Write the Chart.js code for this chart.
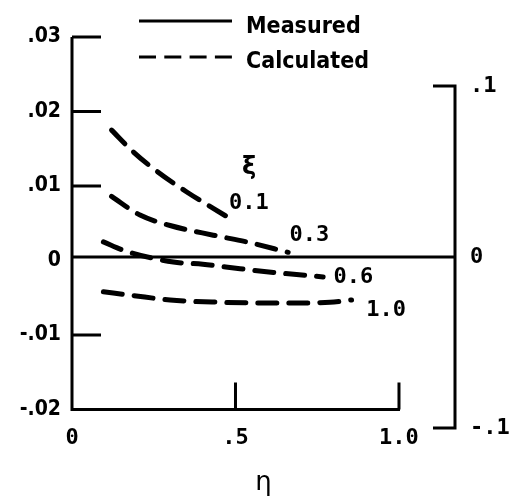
<!DOCTYPE html>
<html>
<head>
<meta charset="utf-8">
<script src="https://cdn.jsdelivr.net/npm/chart.js@4.4.0/dist/chart.umd.min.js"></script>
<style>
  body { margin: 0; background: #fff; }
  canvas { display: block; }
</style>
</head>
<body>
<canvas id="mycanvas" width="512" height="499"></canvas>
<script>
// curve parameter and read-off values (eta, value on left axis)
var xiLabels = ['0.1', '0.3', '0.6', '1.0'];

var eta01 = [0.121, 0.187, 0.259, 0.351, 0.432, 0.492];
var val01 = [0.0175, 0.0146, 0.0120, 0.0092, 0.0070, 0.0054];

var eta03 = [0.121, 0.208, 0.300, 0.432, 0.534, 0.661];
var val03 = [0.0086, 0.0061, 0.0047, 0.0034, 0.0025, 0.0011];

var eta06 = [0.096, 0.162, 0.310, 0.400, 0.514, 0.616, 0.768];
var val06 = [0.0025, 0.0013, -0.0002, -0.0005, -0.0011, -0.0016, -0.0022];

var eta10 = [0.096, 0.187, 0.300, 0.453, 0.575, 0.677, 0.789, 0.855];
var val10 = [-0.0042, -0.0047, -0.0053, -0.0056, -0.0057, -0.0057, -0.0056, -0.0053];

// axis ticks
var xTicks = [0, 0.5, 1.0];
var xTickLabels = ['0', '.5', '1.0'];
var yTicks = [-0.02, -0.01, 0, 0.01, 0.02, 0.03];
var yTickLabels = ['-.02', '-.01', '0', '.01', '.02', '.03'];
var y2Ticks = [-0.1, 0, 0.1];
var y2TickLabels = ['-.1', '0', '.1'];

function pts(xs, ys) {
  var out = [];
  for (var i in xs) out.push({x: xs[i], y: ys[i]});
  return out;
}

function dashed(label, xs, ys) {
  return {
    label: label,
    data: pts(xs, ys),
    borderColor: '#000',
    borderWidth: 5,
    borderDash: [19, 12],
    borderCapStyle: 'round',
    cubicInterpolationMode: 'monotone',
    pointRadius: 0,
    fill: false,
    yAxisID: 'y'
  };
}

var sans = '"DejaVu Sans Condensed", "DejaVu Sans", sans-serif';
var mono = '"DejaVu Sans Mono", monospace';

// axes frame, legend and curve labels
var framePlugin = {
  id: 'frame',
  afterDraw: function(chart) {
    var ctx = chart.ctx;
    var x = chart.scales.x, y = chart.scales.y, y2 = chart.scales.y2;
    var area = chart.chartArea;
    ctx.save();
    ctx.strokeStyle = '#000';
    ctx.lineWidth = 3;
    ctx.lineCap = 'butt';

    var x0 = x.getPixelForValue(0);
    var x1 = x.getPixelForValue(1.0);
    var yb = y.getPixelForValue(-0.02);
    var yt = y.getPixelForValue(0.03);

    ctx.beginPath();
    // left axis + bottom axis
    ctx.moveTo(x0, yt); ctx.lineTo(x0, yb); ctx.lineTo(x1 + 1, yb);
    // left ticks
    [0.03, 0.02, 0.01, -0.01].forEach(function(v) {
      var p = y.getPixelForValue(v);
      ctx.moveTo(x0, p); ctx.lineTo(x0 + 29, p);
    });
    // bottom ticks
    [0.5, 1.0].forEach(function(v) {
      var p = x.getPixelForValue(v);
      ctx.moveTo(p, yb); ctx.lineTo(p, yb - 27);
    });
    // right axis
    var xr = area.right;
    var r1 = y2.getPixelForValue(0.1), r2 = y2.getPixelForValue(-0.1);
    ctx.moveTo(xr - 22, r1); ctx.lineTo(xr, r1); ctx.lineTo(xr, r2); ctx.lineTo(xr - 22, r2);
    // zero line (measured)
    var z = y2.getPixelForValue(0);
    ctx.moveTo(x0, z); ctx.lineTo(xr, z);
    ctx.stroke();

    // legend
    ctx.beginPath();
    ctx.moveTo(139, 21); ctx.lineTo(232, 21);
    ctx.stroke();
    ctx.setLineDash([17, 8.3]);
    ctx.beginPath();
    ctx.moveTo(139, 57); ctx.lineTo(232, 57);
    ctx.stroke();
    ctx.setLineDash([]);
    ctx.fillStyle = '#000';
    ctx.font = 'bold 23px ' + sans;
    ctx.textBaseline = 'alphabetic';
    ctx.textAlign = 'left';
    ctx.fillText('Measured', 246, 33);
    ctx.fillText('Calculated', 246, 68);

    // curve labels
    ctx.textBaseline = 'middle';
    ctx.font = 'bold 24px "DejaVu Sans", sans-serif';
    ctx.fillText('\u03BE', x.getPixelForValue(0.52), y.getPixelForValue(0.0125));
    ctx.font = 'bold 22px ' + mono;
    var lx = [0.48, 0.665, 0.80, 0.90];
    var ly = [0.0077, 0.0034, -0.0022, -0.0067];
    for (var i in xiLabels) {
      ctx.fillText(xiLabels[i], x.getPixelForValue(lx[i]), y.getPixelForValue(ly[i]));
    }
    ctx.restore();
  }
};

var chartdata = {
  datasets: [
    dashed('\u03BE = ' + xiLabels[0], eta01, val01),
    dashed('\u03BE = ' + xiLabels[1], eta03, val03),
    dashed('\u03BE = ' + xiLabels[2], eta06, val06),
    dashed('\u03BE = ' + xiLabels[3], eta10, val10)
  ]
};

var ctx = document.getElementById('mycanvas');

var graph = new Chart(ctx, {
  type: 'line',
  data: chartdata,
  plugins: [framePlugin],
  options: {
    responsive: false,
    animation: false,
    devicePixelRatio: 1,
    layout: { padding: { top: 37, left: 0, right: 0, bottom: 0 } },
    plugins: { legend: { display: false }, tooltip: { enabled: false } },
    scales: {
      x: {
        type: 'linear',
        min: 0,
        max: 1.1713,
        grid: { display: false, drawTicks: false },
        border: { display: false },
        afterFit: function(s) { s.height = 71; },
        afterBuildTicks: function(s) { s.ticks = xTicks.map(function(v) { return {value: v}; }); },
        ticks: {
          autoSkip: false,
          maxRotation: 0,
          padding: -3,
          color: '#000',
          font: { family: mono, size: 22, weight: 'bold' },
          callback: function(v, i) { return xTickLabels[i]; }
        },
        title: {
          display: true,
          text: '\u03B7',
          color: '#000',
          font: { family: '"DejaVu Sans", sans-serif', size: 26 },
          padding: { top: 0, bottom: 0 }
        }
      },
      y: {
        position: 'left',
        min: -0.02248,
        max: 0.03,
        grid: { display: false, drawTicks: false },
        border: { display: false },
        afterFit: function(s) { s.width = 72; },
        afterBuildTicks: function(s) { s.ticks = yTicks.map(function(v) { return {value: v}; }); },
        ticks: {
          autoSkip: false,
          padding: 11,
          color: '#000',
          font: { family: sans, size: 21, weight: 'bold' },
          callback: function(v, i) { return yTickLabels[i]; }
        }
      },
      y2: {
        position: 'right',
        min: -0.1,
        max: 0.12865,
        grid: { display: false, drawTicks: false },
        border: { display: false },
        afterFit: function(s) { s.width = 57; },
        afterBuildTicks: function(s) { s.ticks = y2Ticks.map(function(v) { return {value: v}; }); },
        ticks: {
          autoSkip: false,
          padding: 15,
          color: '#000',
          font: { family: mono, size: 22, weight: 'bold' },
          callback: function(v, i) { return y2TickLabels[i]; }
        }
      }
    }
  }
});
</script>
</body>
</html>
